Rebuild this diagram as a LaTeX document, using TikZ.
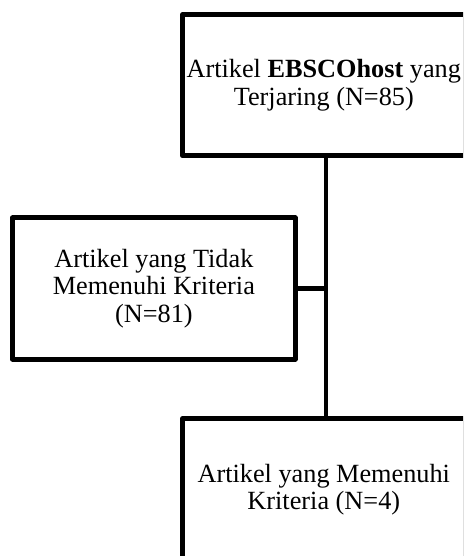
\documentclass[tikz,border=0pt]{standalone}
\usepackage{fontspec}
\setmainfont{Liberation Serif}
\usepackage{tikz}

\begin{document}
\begin{tikzpicture}[x=0.75pt,y=-0.75pt]

  \tikzset{kotak/.style = {shape=rectangle,draw,line width=3.6pt,line join=round,
      minimum width=212pt,minimum height=106pt,inner sep=0pt,align=center,
      font=\fontsize{19.7}{20.5}\selectfont}}
  \tikzset{garis/.style = {-,line width=3.6pt}}
  \useasboundingbox (0,0) rectangle (468,556);
  \clip (0,0) rectangle (463,556);
  % kotak
  \node[kotak] (terjaring) at (323.8,85.2) {Artikel \textbf{EBSCOhost} yang\\Terjaring (N=85)};
  \node[kotak] (tidak) at (153.9,288.5) {Artikel yang Tidak\\Memenuhi Kriteria\\(N=81)};
  \node[kotak] (memenuhi) at (323.8,489.5) {Artikel yang Memenuhi\\Kriteria (N=4)};
  % garis
  \draw[garis] (terjaring.south -| 326,0) -- (memenuhi.north -| 326,0);
  \draw[garis] (tidak.east) -- (tidak.east -| 326,0);
\end{tikzpicture}
\end{document}
